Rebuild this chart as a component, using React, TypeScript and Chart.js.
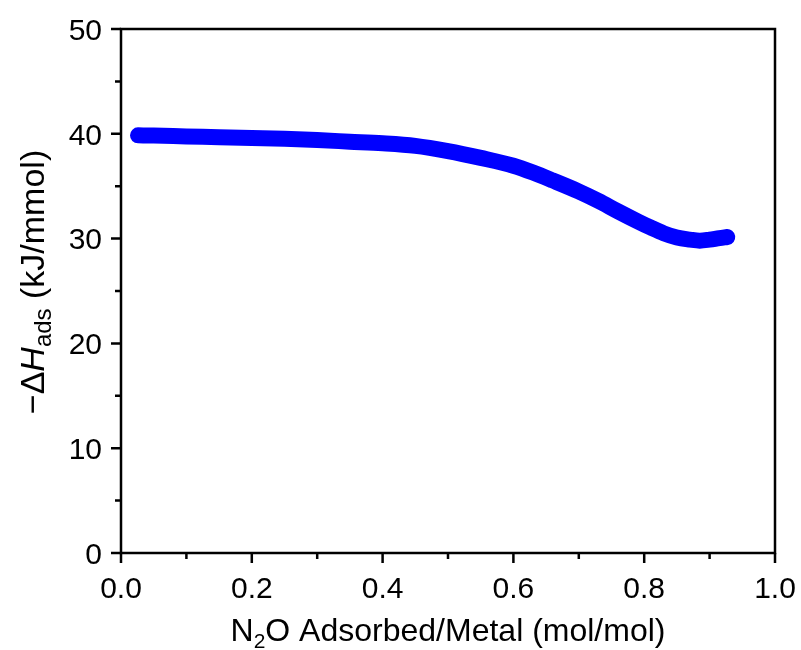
import React, { useEffect, useRef } from "react";
import { Chart, registerables } from "chart.js";

Chart.register(...registerables);

const xValues = [0.026, 0.05, 0.1, 0.15, 0.2, 0.25, 0.3, 0.35, 0.4, 0.45, 0.5, 0.55, 0.6, 0.63, 0.66, 0.7, 0.73, 0.76, 0.79, 0.81, 0.83, 0.85, 0.87, 0.885, 0.9, 0.915, 0.927];
const yValues = [39.85, 39.83, 39.75, 39.68, 39.6, 39.52, 39.4, 39.25, 39.1, 38.85, 38.35, 37.7, 36.95, 36.3, 35.55, 34.5, 33.6, 32.6, 31.65, 31.05, 30.5, 30.1, 29.9, 29.8, 29.9, 30.05, 30.15];

const xMajorTicks = [0, 0.2, 0.4, 0.6, 0.8, 1.0];
const xMinorTicks = [0.1, 0.3, 0.5, 0.7, 0.9];
const yMajorTicks = [0, 10, 20, 30, 40, 50];
const yMinorTicks = [5, 15, 25, 35, 45];
const xTickLabels = ["0.0", "0.2", "0.4", "0.6", "0.8", "1.0"];
const yTickLabels = ["0", "10", "20", "30", "40", "50"];

const FONT = "'Liberation Sans', Arial, sans-serif";

const framePlugin = {
  id: "frameAndTitles",
  afterDraw(chart: any) {
    const { ctx, chartArea } = chart;
    const xs = chart.scales.x;
    const ys = chart.scales.y;
    const { left, right, top, bottom } = chartArea;
    ctx.save();
    ctx.strokeStyle = "#000";
    ctx.lineWidth = 2.5;
    ctx.lineCap = "butt";
    ctx.strokeRect(left, top, right - left, bottom - top);
    ctx.beginPath();
    for (const v of xMajorTicks) {
      const px = xs.getPixelForValue(v);
      ctx.moveTo(px, bottom);
      ctx.lineTo(px, bottom + 10);
    }
    for (const v of xMinorTicks) {
      const px = xs.getPixelForValue(v);
      ctx.moveTo(px, bottom);
      ctx.lineTo(px, bottom + 6);
    }
    for (const v of yMajorTicks) {
      const py = ys.getPixelForValue(v);
      ctx.moveTo(left, py);
      ctx.lineTo(left - 10, py);
    }
    for (const v of yMinorTicks) {
      const py = ys.getPixelForValue(v);
      ctx.moveTo(left, py);
      ctx.lineTo(left - 6, py);
    }
    ctx.stroke();

    // tick labels
    ctx.fillStyle = "#000";
    ctx.textBaseline = "alphabetic";
    ctx.font = `30px ${FONT}`;
    ctx.textAlign = "center";
    xMajorTicks.forEach((v, i) => {
      ctx.fillText(xTickLabels[i], xs.getPixelForValue(v), bottom + 45);
    });
    ctx.textAlign = "right";
    yMajorTicks.forEach((v, i) => {
      ctx.fillText(yTickLabels[i], left - 19, ys.getPixelForValue(v) + 10.8);
    });

    // X title
    ctx.textAlign = "left";
    const xParts = [
      { t: "N", f: `32px ${FONT}`, dy: 0 },
      { t: "2", f: `21px ${FONT}`, dy: 7 },
      { t: "O Adsorbed/Metal (mol/mol)", f: `32px ${FONT}`, dy: 0 },
    ];
    let total = 0;
    for (const p of xParts) { ctx.font = p.f; total += ctx.measureText(p.t).width; }
    let cx = (left + right) / 2 - total / 2;
    const baseX = 641;
    for (const p of xParts) {
      ctx.font = p.f;
      ctx.fillText(p.t, cx, baseX + p.dy);
      cx += ctx.measureText(p.t).width;
    }

    // Y title
    const yParts = [
      { t: "\u2212\u0394", f: `34px ${FONT}`, dy: 0 },
      { t: "H", f: `italic 34px ${FONT}`, dy: 0 },
      { t: "ads", f: `24px ${FONT}`, dy: 7 },
      { t: " (kJ/mmol)", f: `34px ${FONT}`, dy: 0 },
    ];
    total = 0;
    for (const p of yParts) { ctx.font = p.f; total += ctx.measureText(p.t).width; }
    ctx.translate(44, 282);
    ctx.rotate(-Math.PI / 2);
    cx = -total / 2;
    for (const p of yParts) {
      ctx.font = p.f;
      ctx.fillText(p.t, cx, p.dy);
      cx += ctx.measureText(p.t).width;
    }
    ctx.restore();
  },
};

export default function App() {
  const ref = useRef<HTMLCanvasElement | null>(null);
  useEffect(() => {
    if (!ref.current) return;
    const chart = new Chart(ref.current, {
      type: "line",
      data: {
        datasets: [
          {
            data: xValues.map((x, i) => ({ x, y: yValues[i] })),
            borderColor: "#0000FF",
            backgroundColor: "#0000FF",
            borderWidth: 16,
            borderCapStyle: "round",
            borderJoinStyle: "round",
            pointRadius: 0,
            cubicInterpolationMode: "monotone",
            fill: false,
          },
        ],
      },
      plugins: [framePlugin],
      options: {
        responsive: false,
        animation: false,
        devicePixelRatio: 1,
        layout: { padding: { top: 29, right: 26, left: 0, bottom: 0 } },
        plugins: { legend: { display: false }, tooltip: { enabled: false }, title: { display: false } },
        scales: {
          x: {
            type: "linear",
            min: 0,
            max: 1,
            grid: { display: false, drawTicks: false },
            border: { display: false },
            ticks: { display: false },
            afterFit: (s: any) => { s.height = 97; },
          },
          y: {
            type: "linear",
            min: 0,
            max: 50,
            grid: { display: false, drawTicks: false },
            border: { display: false },
            ticks: { display: false },
            afterFit: (s: any) => { s.width = 121; },
          },
        },
      },
    });
    return () => chart.destroy();
  }, []);
  return (
    <div style={{ position: "fixed", left: 0, top: 0, width: 801, height: 650, background: "#fff" }}>
      <canvas ref={ref} width={801} height={650} style={{ width: 801, height: 650, display: "block" }} />
    </div>
  );
}
